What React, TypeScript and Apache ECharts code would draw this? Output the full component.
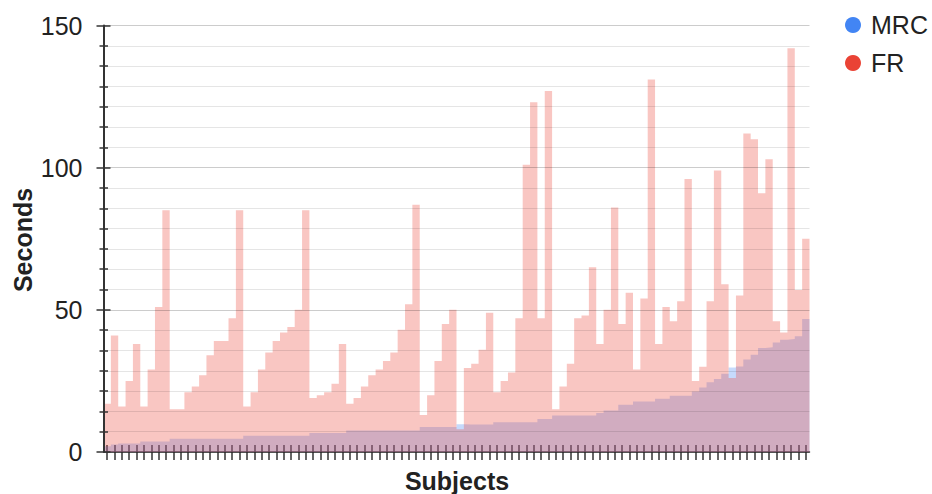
import React, { useEffect, useRef } from "react";
import * as echarts from "echarts";

const seriesNames = ["MRC", "FR"];
const seriesColors = ["#4285F4", "#EA4335"];

// MRC times (seconds), one per subject, sorted ascending
const mrc = [
  2.0, 2.6, 3.0, 3.0, 3.0, 3.7, 3.7, 3.7, 3.7, 4.7,
  4.7, 4.7, 4.7, 4.7, 4.7, 4.7, 4.7, 4.7, 4.7, 5.7,
  5.7, 5.7, 5.7, 5.7, 5.7, 5.7, 5.7, 5.7, 6.7, 6.7,
  6.7, 6.7, 6.7, 7.6, 7.6, 7.6, 7.6, 7.6, 7.6, 7.6,
  7.6, 7.6, 7.6, 8.8, 8.8, 8.8, 8.8, 8.8, 9.8, 9.7,
  9.7, 9.7, 9.7, 10.5, 10.5, 10.5, 10.5, 10.5, 10.5, 11.6,
  11.6, 12.8, 12.8, 12.8, 12.8, 12.8, 12.8, 13.7, 14.6, 14.6,
  16.6, 16.6, 17.8, 17.8, 17.8, 18.7, 18.7, 19.8, 19.8, 19.8,
  21.3, 22.7, 24.5, 25.7, 27.5, 29.7, 30.1, 32.5, 34.2, 36.6,
  36.8, 38.5, 39.5, 39.7, 40.7, 46.8,
];

// FR times (seconds), one per subject
const fr = [
  17, 41, 16, 25, 38, 16, 29, 51, 85, 15,
  15, 21, 23, 27, 34, 39, 39, 47, 85, 16,
  21, 29, 35, 39, 42, 44, 50, 85, 19, 20,
  21, 24, 38, 17, 19, 23, 27, 29, 32, 35,
  43, 52, 87, 13, 20, 32, 45, 50, 8, 29.5,
  31, 36, 49, 21, 25, 28, 47, 101, 123, 47,
  127, 15, 23, 31, 47, 48, 65, 38, 50, 86,
  45, 56, 29, 54, 131, 38, 51, 46, 53, 96,
  25, 30, 53, 99, 59, 26, 55, 112, 110, 91,
  103, 46, 42, 142, 57, 75,
];

const subjects = fr.map((_, i) => String(i + 1));
const yTicks = [0, 50, 100, 150];

const FONT = "'Liberation Sans', Arial, Helvetica, sans-serif";

function stepData(values: number[]) {
  const d = values.map((v, i) => [i, v]);
  d.push([values.length, values[values.length - 1]]);
  return d;
}

export default function App() {
  const ref = useRef<HTMLDivElement>(null);

  useEffect(() => {
    if (!ref.current) return;
    const chart = echarts.init(ref.current, null, { renderer: "svg" });
    const axisColor = "#333";
    const yMin = yTicks[0];
    const yMax = yTicks[yTicks.length - 1];
    const yInt = yTicks[1] - yTicks[0];

    const option: any = {
      animation: false,
      backgroundColor: "#fff",
      textStyle: { fontFamily: FONT },
      grid: { left: 103.5, right: 122.5, top: 25.5, bottom: 42, containLabel: false },
      legend: {
        data: seriesNames,
        orient: "vertical",
        icon: "circle",
        left: 845,
        top: 11,
        padding: 0,
        itemWidth: 16,
        itemHeight: 16,
        itemGap: 10,
        selectedMode: false,
        textStyle: { fontSize: 25, color: "#222", fontFamily: FONT, lineHeight: 28, padding: [0, 0, 0, 5] },
      },
      xAxis: [
        { type: "value", min: 0, max: subjects.length, show: false },
        {
          type: "category",
          data: subjects,
          boundaryGap: true,
          position: "bottom",
          axisLine: { show: true, lineStyle: { color: axisColor, width: 1.5 } },
          axisTick: { show: true, alignWithLabel: true, interval: 0, length: 8, lineStyle: { color: axisColor, width: 1.5 } },
          axisLabel: { show: false, interval: 0 },
          splitLine: { show: false },
        },
        {
          type: "category",
          data: subjects,
          boundaryGap: true,
          position: "bottom",
          axisLine: { show: false },
          axisTick: { show: true, inside: true, alignWithLabel: true, interval: 0, length: 7, lineStyle: { color: axisColor, width: 1.5 } },
          axisLabel: { show: false, interval: 0 },
          splitLine: { show: false },
        },
      ],
      yAxis: [
        {
          type: "value",
          min: yMin,
          max: yMax,
          interval: yInt,
          position: "left",
          z: 3,
          axisLine: { show: true, lineStyle: { color: axisColor, width: 2 } },
          axisTick: { show: true, length: 7, lineStyle: { color: axisColor, width: 1.5 } },
          minorTick: { show: true, splitNumber: 7, length: 4, lineStyle: { color: axisColor, width: 1.5 } },
          axisLabel: { fontSize: 25, color: "#222", margin: 21, fontFamily: FONT },
          splitLine: { show: true, lineStyle: { color: "rgba(0,0,0,0.2)", width: 1 } },
          minorSplitLine: { show: true, lineStyle: { color: "rgba(0,0,0,0.1)", width: 1 } },
        },
        {
          type: "value",
          min: yMin,
          max: yMax,
          interval: yInt,
          position: "left",
          z: 3,
          axisLine: { show: false },
          axisTick: { show: true, inside: true, length: 7, lineStyle: { color: axisColor, width: 1.5 } },
          minorTick: { show: true, splitNumber: 7, length: 4.5, lineStyle: { color: axisColor, width: 1.5 } },
          axisLabel: { show: false },
          splitLine: { show: false },
          minorSplitLine: { show: false },
        },
      ],
      series: [mrc, fr].map((vals, k) => ({
        name: seriesNames[k],
        type: "line",
        step: "end",
        xAxisIndex: 0,
        yAxisIndex: 0,
        data: stepData(vals),
        symbol: "none",
        showSymbol: false,
        itemStyle: { color: seriesColors[k] },
        lineStyle: { width: 0, opacity: 0 },
        areaStyle: { color: seriesColors[k], opacity: 0.3 },
        z: 2,
      })),
      graphic: [
        {
          type: "text",
          x: 23,
          y: 240,
          rotation: Math.PI / 2,
          style: {
            text: "Seconds",
            fontSize: 25,
            fontWeight: "bold",
            fontFamily: FONT,
            fill: "#222",
            textAlign: "center",
            textVerticalAlign: "middle",
          },
        },
        {
          type: "text",
          x: 457,
          y: 481,
          style: {
            text: "Subjects",
            fontSize: 25,
            fontWeight: "bold",
            fontFamily: FONT,
            fill: "#222",
            textAlign: "center",
            textVerticalAlign: "middle",
          },
        },
      ],
    };
    chart.setOption(option);
    return () => chart.dispose();
  }, []);

  return (
    <div
      ref={ref}
      style={{ position: "fixed", left: 0, top: 0, width: 932, height: 494, background: "#fff" }}
    />
  );
}
